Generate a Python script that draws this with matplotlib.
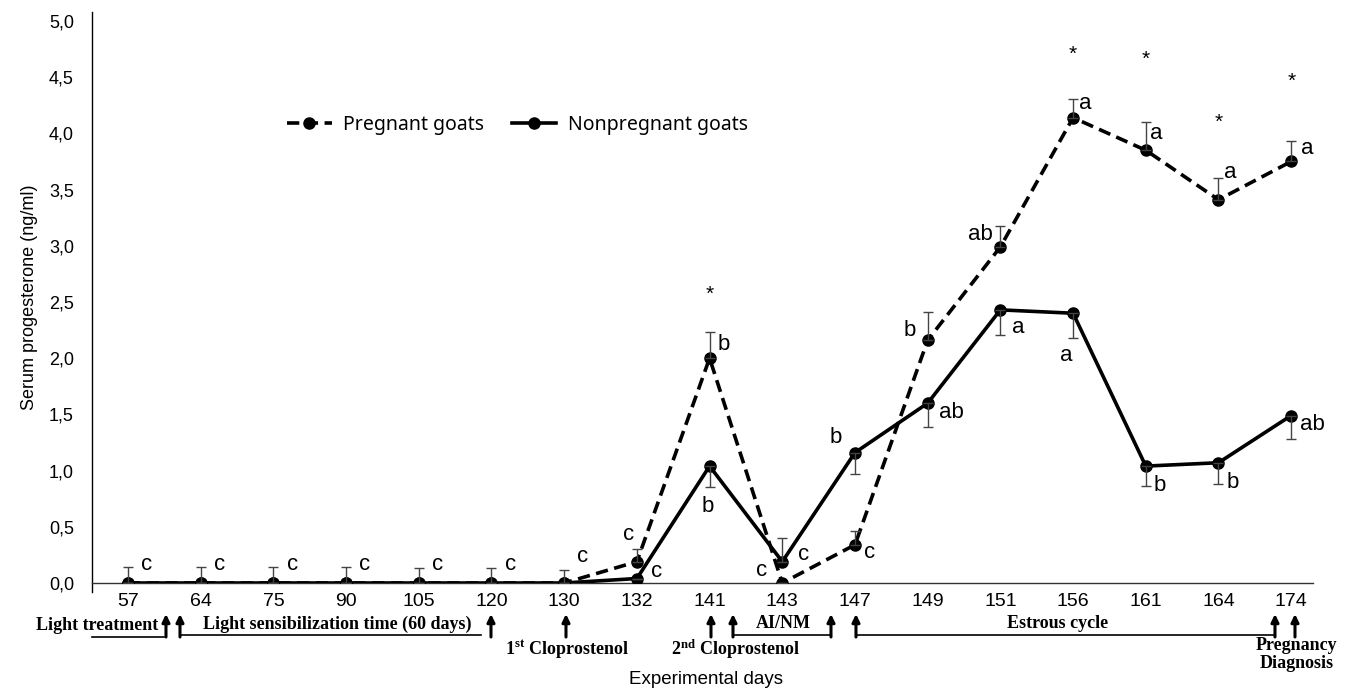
import matplotlib
matplotlib.use('Agg')
import matplotlib.pyplot as plt
import matplotlib.transforms as mtransforms
from matplotlib.ticker import FuncFormatter

plt.rcParams['font.family'] = ['Liberation Sans', 'DejaVu Sans']
plt.rcParams['mathtext.fontset'] = 'custom'
plt.rcParams['mathtext.bf'] = 'Liberation Serif:bold'
plt.rcParams['mathtext.rm'] = 'Liberation Serif'

# data
days = ['57', '64', '75', '90', '105', '120', '130', '132', '141', '143',
        '147', '149', '151', '156', '161', '164', '174']
pregnant = [0, 0, 0, 0, 0, 0, 0, 0.19, 2.00, 0.00, 0.34, 2.16, 2.99, 4.14, 3.85, 3.41, 3.75]
pregnant_sem = [0.14, 0.14, 0.14, 0.14, 0.13, 0.13, 0.12, 0.11, 0.23, 0, 0.12, 0.25, 0.19, 0.17, 0.25, 0.19, 0.18]
nonpregnant = [0, 0, 0, 0, 0, 0, 0, 0.04, 1.04, 0.19, 1.16, 1.60, 2.43, 2.40, 1.04, 1.07, 1.49]
nonpregnant_sem = [0, 0, 0, 0, 0, 0, 0, 0, 0.19, 0.21, 0.19, 0.21, 0.22, 0.22, 0.18, 0.19, 0.21]
nonpregnant_sem_up = [False]*9 + [True] + [False]*7

pregnant_letters = ['c', 'c', 'c', 'c', 'c', 'c', 'c', 'c', 'b', 'c', 'c', 'b', 'ab', 'a', 'a', 'a', 'a']
nonpregnant_letters = ['', '', '', '', '', '', '', 'c', 'b', 'c', 'b', 'ab', 'a', 'a', 'b', 'b', 'ab']
star_idx = [8, 13, 14, 15, 16]
star_y = [2.61, 4.75, 4.70, 4.14, 4.51]

# letter offsets (pixels)
preg_off = [(19, 19)]*6 + [(18, 26), (-8, 27), (14, 14), (-21, 12), (15, -8), (-18, 10),
                           (-20, 12), (12, 14), (10, 17), (12, 27), (16, 13)]
nonpreg_off = [(0, 0)]*7 + [(20, 7), (-2, -40), (21, 7), (-19, 15), (24, -9), (18, -18),
                            (-7, -42), (14, -19), (14, -20), (21, -9)]

W, H = 1349, 692
fig = plt.figure(figsize=(W/100, H/100), dpi=100)
ax = fig.add_axes([92/W, (H-583)/H, (1313-92)/W, 571/H])
x = list(range(len(days)))

ax.plot(x, pregnant, color='black', lw=2.6, linestyle=(0, (3.4, 1.8)), marker='o', ms=8,
        label='Pregnant goats', zorder=3)
ax.plot(x, nonpregnant, color='black', lw=2.6, marker='o', ms=8,
        label='Nonpregnant goats', zorder=3)

ax.errorbar(x, pregnant, yerr=[[0]*len(x), pregnant_sem], fmt='none', ecolor='#444444',
            elinewidth=1, capsize=3.5, capthick=1, zorder=4)
lo = [0 if u else s for s, u in zip(nonpregnant_sem, nonpregnant_sem_up)]
hi = [s if u else 0 for s, u in zip(nonpregnant_sem, nonpregnant_sem_up)]
ax.errorbar(x, nonpregnant, yerr=[lo, hi], fmt='none', ecolor='#444444',
            elinewidth=1, capsize=3.5, capthick=1, zorder=4)

for i in x:
    if pregnant_letters[i]:
        ax.annotate(pregnant_letters[i], (i, pregnant[i]), xytext=preg_off[i],
                    textcoords='offset pixels', ha='center', va='center', fontsize=16)
    if nonpregnant_letters[i]:
        ax.annotate(nonpregnant_letters[i], (i, nonpregnant[i]), xytext=nonpreg_off[i],
                    textcoords='offset pixels', ha='center', va='center', fontsize=16)
for i, yv in zip(star_idx, star_y):
    ax.annotate('*', (i, yv), xytext=(0, -5), textcoords='offset pixels',
                ha='center', va='center', fontsize=15)

ax.set_xlim(-0.495, 16.3)
ax.set_ylim(0, 5.08)
ax.set_yticks([i*0.5 for i in range(11)])
ax.yaxis.set_major_formatter(FuncFormatter(lambda v, p: f'{v:.1f}'.replace('.', ',')))
ax.tick_params(axis='y', labelsize=13, length=0, pad=13)
ax.set_yticks([0], minor=True)
ax.tick_params(axis='y', which='minor', length=8, width=1, direction='out')
ax.set_xticks(x)
ax.set_xticklabels(days, family=['Liberation Sans Narrow', 'Liberation Sans'], fontsize=14)
ax.tick_params(axis='x', length=0, pad=7)
for s in ['top', 'right']:
    ax.spines[s].set_visible(False)
ax.spines['left'].set_linewidth(1)
ax.spines['left'].set_bounds(-0.08, 5.08)
ax.spines['bottom'].set_linewidth(1)
ax.spines['bottom'].set_color('#333333')

ax.set_ylabel('Serum progesterone (ng/ml)', fontsize=13, labelpad=8)
fig.text(706/W, 1-680/H, 'Experimental days', ha='center', va='center', fontsize=13.5)

leg = fig.legend(loc='center left', bbox_to_anchor=(287/W, 1-125/H), ncol=2, frameon=False,
                 prop={'family': 'Noto Sans', 'size': 14}, handlelength=2.3,
                 handletextpad=0.6, columnspacing=1.4, borderpad=0, borderaxespad=0)

# timeline annotations under the axis
tr = mtransforms.blended_transform_factory(ax.transData, fig.transFigure)
def px(p):
    return (p - 128) / 72.7
def fy(p):
    return 1 - p / H
serif = {'family': ['Liberation Serif', 'DejaVu Serif'], 'weight': 'bold'}

for p in [166, 180, 491, 566, 711, 733, 831, 856, 1275, 1295]:
    ax.annotate('', xy=(px(p), fy(614)), xytext=(px(p), fy(637)), xycoords=tr, textcoords=tr,
                arrowprops=dict(arrowstyle='-|>,head_width=0.22,head_length=0.45',
                                lw=2.2, color='black', shrinkA=0, shrinkB=0),
                annotation_clip=False)
for a, b, yy in [(92, 164, 637), (180, 481, 635), (733, 831, 635), (856, 1275, 635)]:
    ax.plot([px(a), px(b)], [fy(yy), fy(yy)], transform=tr, color='black', lw=1.2, clip_on=False)

ax.text(px(158), fy(625), 'Light treatment', transform=tr, ha='right', va='center', fontsize=13, **serif)
ax.text(px(337), fy(624), 'Light sensibilization time (60 days)', transform=tr, ha='center',
        va='center', fontsize=13, **serif)
ax.text(px(567), fy(649), r'$\mathbf{1^{st}}$ Cloprostenol', transform=tr, ha='center',
        va='center', fontsize=13, **serif)
ax.text(px(735), fy(649), r'$\mathbf{2^{nd}}$ Cloprostenol', transform=tr, ha='center',
        va='center', fontsize=13, **serif)
ax.text(px(783), fy(624), 'AI/NM', transform=tr, ha='center', va='center', fontsize=13, **serif)
ax.text(px(1058), fy(624), 'Estrous cycle', transform=tr, ha='center', va='center', fontsize=13, **serif)
ax.text(px(1296), fy(645), 'Pregnancy', transform=tr, ha='center', va='center', fontsize=13, **serif)
ax.text(px(1297), fy(664), 'Diagnosis', transform=tr, ha='center', va='center', fontsize=13, **serif)

fig.savefig('out.png', dpi=100)
